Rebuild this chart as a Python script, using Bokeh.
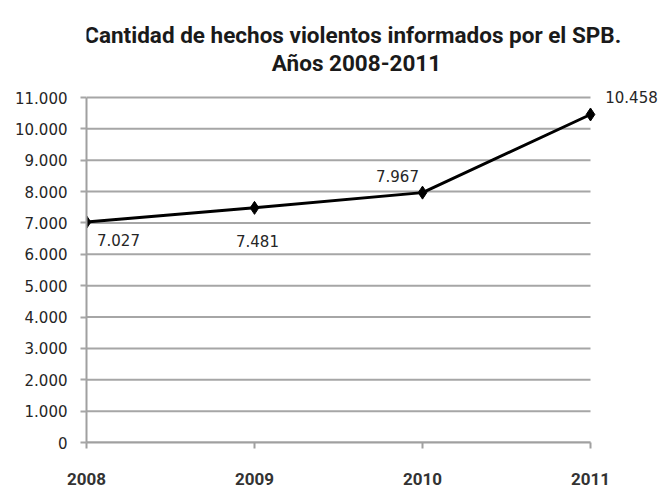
from bokeh.plotting import figure
from bokeh.models import Range1d, FixedTicker, Label, ColumnDataSource, LabelSet
from bokeh.core.properties import value
from bokeh.embed import file_html
from bokeh.resources import INLINE

years = [2008, 2009, 2010, 2011]
values = [7027, 7481, 7967, 10458]
y_ticks = list(range(0, 11001, 1000))
title_1 = "Cantidad de hechos violentos informados por el  SPB."
title_2 = "Años 2008-2011"

def fmt(v):
    return f"{v:,}".replace(",", ".")

labels = [fmt(v) for v in values]
lab_dx = [32, 3, -25, 41]
lab_dy = [-18, -33, 17, 17]

# layout (px): frame spans from the canvas top so the title can live inside it
W, H = 664, 493
FL, FB = 86, 51
FW, FH = W - FL, H - FB
X_SPAN_PX, Y_SPAN_PX = 504, 345
px_per_year = X_SPAN_PX / (years[-1] - years[0])
x_end = years[-1] + (FW - X_SPAN_PX) / px_per_year
px_per_unit = Y_SPAN_PX / y_ticks[-1]
y_end = y_ticks[-1] + (FH - Y_SPAN_PX) / px_per_unit

p = figure(frame_width=FW, frame_height=FH, output_backend="svg", toolbar_location=None,
           x_range=Range1d(years[0], x_end), y_range=Range1d(0, y_end),
           min_border_left=FL, min_border_right=0, min_border_bottom=FB, min_border_top=0)
p.outline_line_color = None
p.background_fill_color = "white"
p.border_fill_color = "white"

for txt, xx, yy in [(title_1, 355, 34), (title_2, 356, 62)]:
    p.add_layout(Label(x=xx, y=yy, x_units="canvas", y_units="canvas", text=txt,
                       text_font="Roboto", text_font_style="bold", text_font_size="22.5px",
                       text_color="#1a1a1a", text_align="center", text_baseline="middle"))

p.xgrid.visible = False
p.ygrid.visible = False
p.segment(x0=[years[0]] * len(y_ticks), x1=[years[-1]] * len(y_ticks), y0=y_ticks, y1=y_ticks,
          line_color="#a6a6a6", line_width=2)

p.yaxis.ticker = FixedTicker(ticks=y_ticks)
p.yaxis.bounds = (y_ticks[0], y_ticks[-1])
p.yaxis.major_label_overrides = {t: fmt(t) for t in y_ticks}
p.yaxis.axis_line_color = "#a0a0a0"
p.yaxis.axis_line_width = 2
p.yaxis.major_tick_line_color = "#a6a6a6"
p.yaxis.major_tick_line_width = 2
p.yaxis.major_tick_in = 0
p.yaxis.major_tick_out = 6
p.yaxis.minor_tick_line_color = None
p.yaxis.major_label_standoff = 13
p.yaxis.major_label_text_font = "DejaVu Sans"
p.yaxis.major_label_text_font_size = "15px"
p.yaxis.major_label_text_color = "#262626"

p.xaxis.ticker = FixedTicker(ticks=years)
p.xaxis.bounds = (years[0], years[-1])
p.xaxis.major_label_overrides = {y: str(y) for y in years}
p.xaxis.axis_line_color = "#a0a0a0"
p.xaxis.axis_line_width = 2
p.xaxis.major_tick_line_color = "#a0a0a0"
p.xaxis.major_tick_line_width = 2
p.xaxis.major_tick_in = 0
p.xaxis.major_tick_out = 6
p.xaxis.minor_tick_line_color = None
p.xaxis.major_label_standoff = 24
p.xaxis.major_label_text_font = "Roboto"
p.xaxis.major_label_text_font_style = "bold"
p.xaxis.major_label_text_font_size = "17px"
p.xaxis.major_label_text_color = "#333333"

src = ColumnDataSource(dict(x=years, y=values, label=labels, dx=lab_dx, dy=lab_dy))
p.line("x", "y", source=src, line_color="black", line_width=3)
p.scatter("x", "y", source=src, marker="diamond", size=13, fill_color="black", line_color="black")
ls = LabelSet(x="x", y="y", text="label", source=src, x_offset="dx", y_offset="dy",
              text_font=value("DejaVu Sans"), text_font_size="15px",
              text_color="#262626", text_align="center", text_baseline="middle")
p.add_layout(ls)

open("out.html", "w").write(file_html(p, INLINE))
